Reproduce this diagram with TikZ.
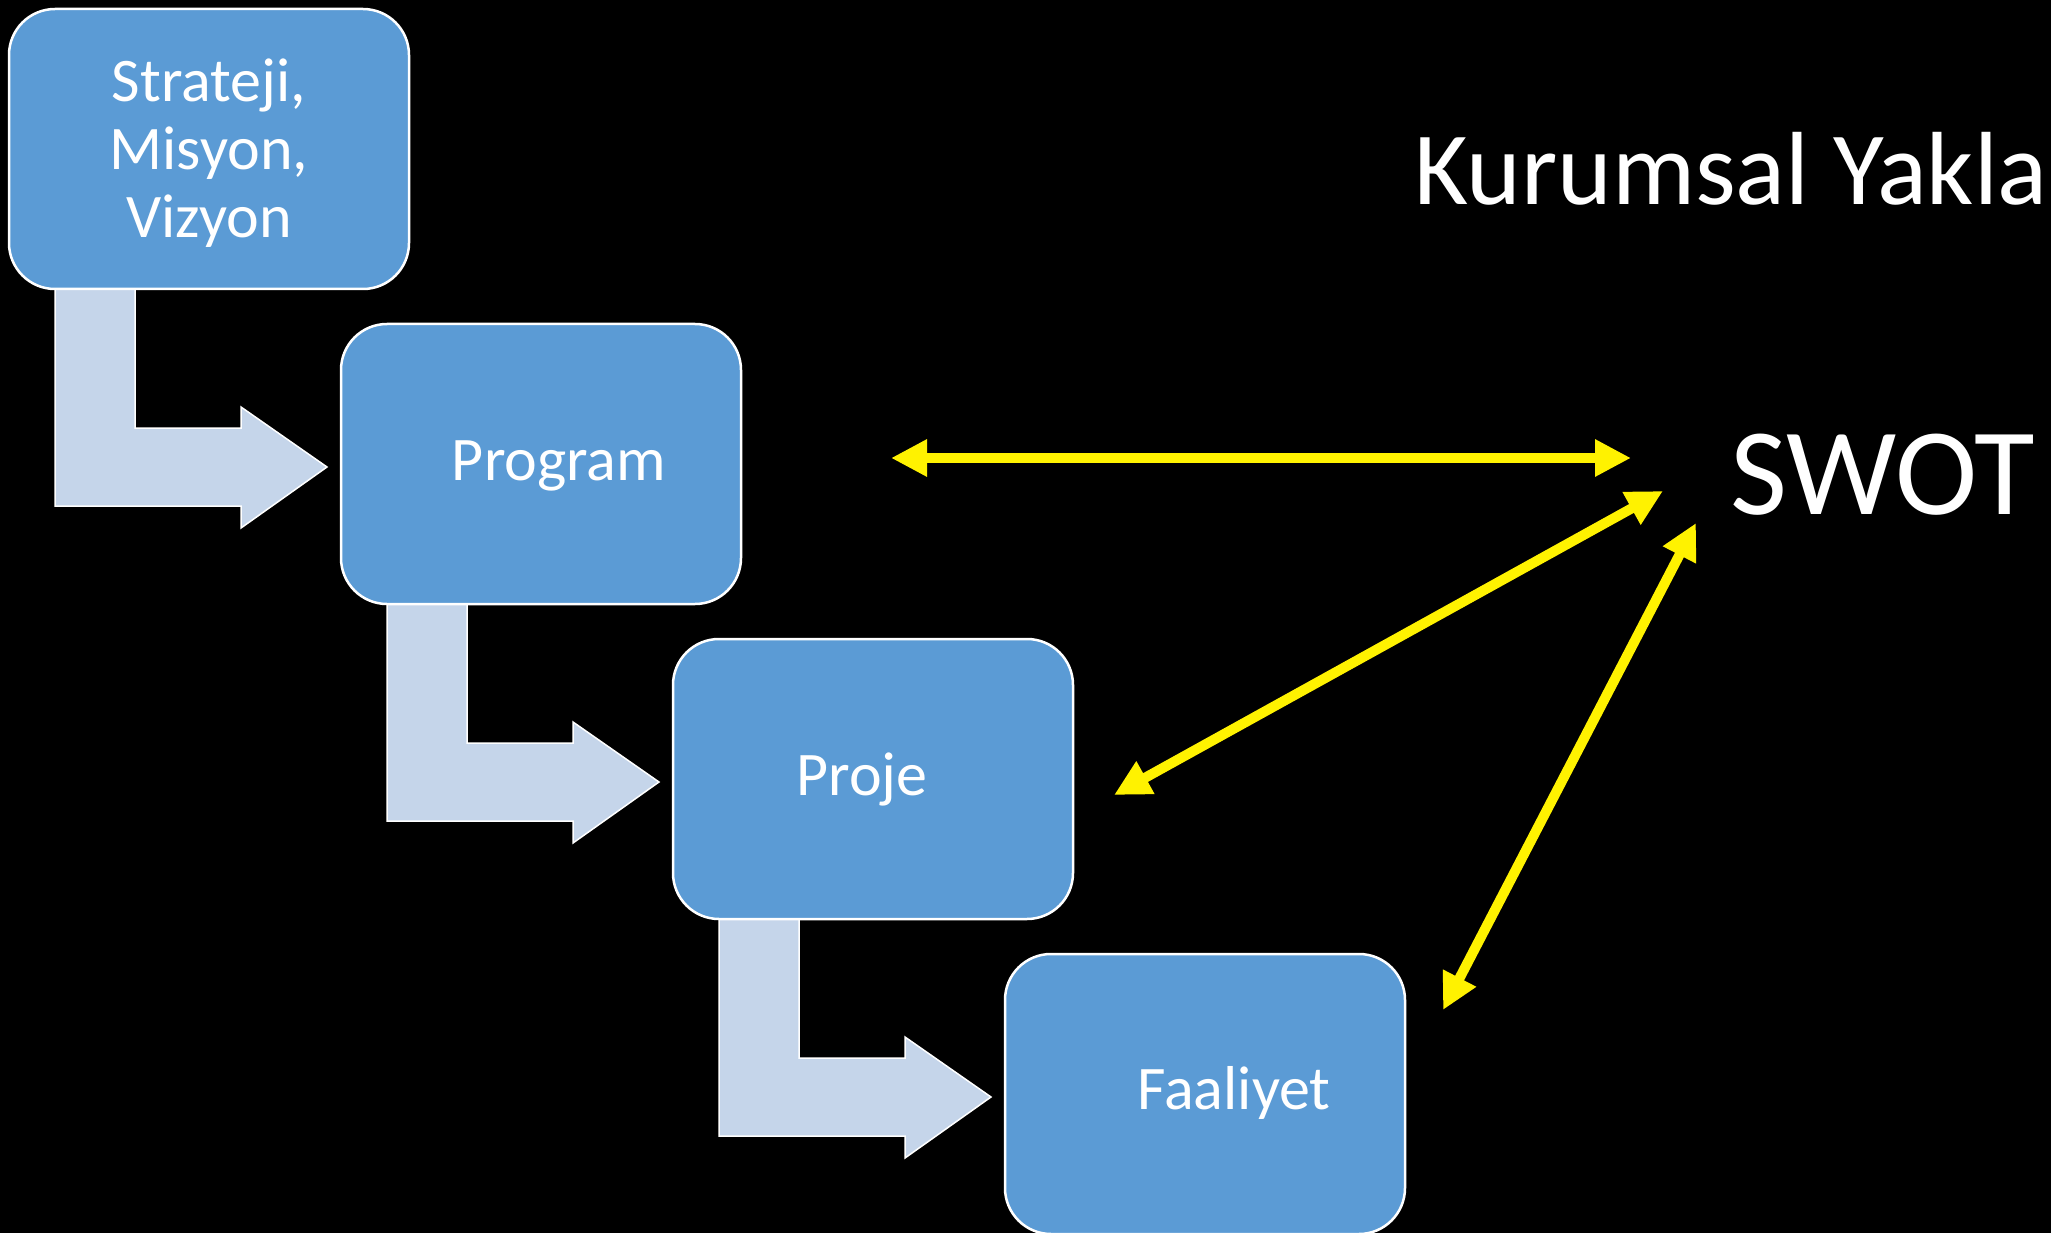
\documentclass[tikz,border=0pt]{standalone}
\usepackage{fontspec}
\setmainfont{Carlito}
\usetikzlibrary{arrows.meta,calc}
\definecolor{boxblue}{HTML}{5B9BD5}
\definecolor{arrowfill}{HTML}{C5D5EA}
\pgfdeclarelayer{bg}
\pgfdeclarelayer{mid}
\pgfsetlayers{bg,mid,main}
\begin{document}
\begin{tikzpicture}[x=1pt,y=-1pt,
  stagebox/.style={draw=white,line width=2.5pt,fill=boxblue,rounded corners=46pt,
    minimum width=400pt,minimum height=280pt,inner sep=0pt,outer sep=0pt},
  lbl/.style={text=white,font=\fontsize{62}{68}\selectfont,align=center,inner sep=0pt},
  bent/.style={fill=arrowfill,draw=white,line width=1.5pt,line join=miter},
  link/.style={draw=yellow,line width=10pt,
    {Triangle[length=36pt,width=35pt]}-{Triangle[length=36pt,width=35pt]}}]
\begin{pgfonlayer}{bg}
  \fill[black] (0,0) rectangle (2051,1233);
\end{pgfonlayer}
\useasboundingbox (0,0) rectangle (2051,1233);

% stage boxes
\node[stagebox] (b1) at (209,149) {};
\node[stagebox] (b2) at (541,464) {};
\node[stagebox] (b3) at (873,779) {};
\node[stagebox] (b4) at (1205,1094) {};

\node[lbl] (t1) at ($(b1.center)+(0,4)$) {Strateji,\\Misyon,\\Vizyon};
\node[lbl,anchor=base] (t2) at ($(b2.center)+(18,16)$) {Program};
\node[lbl,anchor=base] (t3) at ($(b3.center)+(-11,16)$) {Proje};
\node[lbl,anchor=base] (t4) at ($(b4.center)+(29,15)$) {Faaliyet};

% bent arrows
\begin{pgfonlayer}{mid}
\foreach \b in {b1,b2,b3}{
  \draw[bent] ($(\b.north west)+(46,270)$) -- ($(\b.north west)+(126,270)$)
    -- ($(\b.north west)+(126,419)$) -- ($(\b.north west)+(232,419)$)
    -- ($(\b.north west)+(232,398)$) -- ($(\b.north west)+(318,458)$)
    -- ($(\b.north west)+(232,519)$) -- ($(\b.north west)+(232,497)$)
    -- ($(\b.north west)+(46,497)$) -- cycle;
}
\end{pgfonlayer}

% titles
\node[text=white,anchor=base west,inner sep=0pt,font=\fontsize{104}{120}\selectfont] (title) at (1414,205) {Kurumsal Yakla};
\node[text=white,anchor=base west,inner sep=0pt,font=\fontsize{124}{140}\selectfont] (swot) at (1730,514) {SWOT};

% yellow links
\coordinate (a1) at (891,458);
\coordinate (a2) at (1631,458);
\coordinate (c1) at (1114,795);
\coordinate (c2) at (1663,491);
\coordinate (d1) at (1443,1010);
\coordinate (d2) at (1696,523);
\draw[link] (a1) -- (a2);
\draw[link] (c1) -- (c2);
\draw[link] (d1) -- (d2);
\end{tikzpicture}
\end{document}
